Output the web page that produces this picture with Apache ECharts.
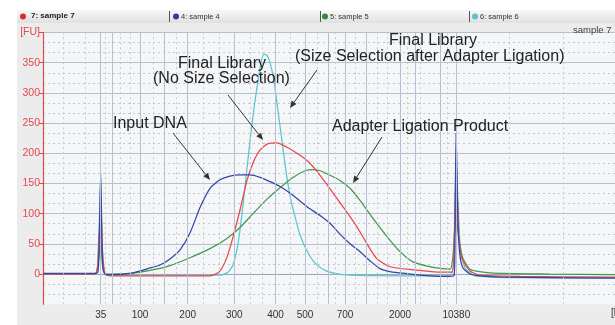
<!DOCTYPE html>
<html><head><meta charset="utf-8">
<script src="https://cdn.jsdelivr.net/npm/echarts@6.0.0/dist/echarts.min.js"></script>
<style>html,body{margin:0;padding:0;background:#fff;}#c{width:615px;height:325px;}</style>
</head><body><div id="c"></div>
<script>
// x axis = migration time (arbitrary units); ladder peaks mapped to bp labels
const ladderTimes = [20.77, 21.93, 24.7, 27.1, 29.47, 34.13, 38.25, 41.2, 43.57, 45.2, 47.37, 50.7, 52.2, 54.77, 56.33];
const ladderBp    = [35, 50, 100, 150, 200, 300, 400, 500, 600, 700, 1000, 2000, 3000, 7000, 10380];
const shownBp     = [35, 100, 200, 300, 400, 500, 700, 2000, 10380];
const yTicks      = [0, 50, 100, 150, 200, 250, 300, 350, 400];

// sample 4 : Input DNA (blue)
const sample4 = [[15,1],[20.2,1],[20.5,3],[20.65,70],[20.77,167],[20.88,60],[21.0,8],[21.2,0],[21.7,-1],[23.7,1],[25.7,10],[26.7,15],[27.7,25],[28.7,40],[29.7,68],[30.7,110],[31.7,142],[32.7,156],[33.7,162],[34.7,164],[35.7,164],[36.7,160],[37.7,153],[38.7,145],[39.7,134],[40.7,121],[41.7,108],[42.7,97],[43.7,84],[44.7,66],[45.7,50],[46.7,37],[47.7,22],[48.7,9],[49.7,4],[50.7,2],[52.7,-2],[55.2,-4],[56.1,-3],[56.2,60],[56.3,233],[56.4,170],[56.5,80],[56.7,30],[57.0,10],[57.7,0],[58.7,-3],[60.7,-5],[65.7,-6],[72.2,-7]];
// sample 7 : Final Library, no size selection (red)
const sample7 = [[15,0],[20.2,0],[20.55,40],[20.77,126],[20.95,35],[21.2,0],[21.7,-3],[31.7,-3],[32.5,2],[32.9,10],[33.4,28],[34.0,61],[34.7,106],[35.4,155],[36.0,184],[36.7,205],[37.5,216],[38.4,217],[39.4,210],[40.4,200],[41.4,188],[42.4,170],[43.4,148],[44.4,125],[45.4,102],[46.4,78],[47.4,50],[48.4,25],[49.7,12],[52.0,7],[54.7,3],[55.9,3],[56.1,40],[56.3,165],[56.45,120],[56.6,60],[56.9,25],[57.7,5],[58.7,-2],[62.7,-4],[72.2,-5]];
// sample 5 : Adapter Ligation Product (green)
const sample5 = [[15,0],[20.2,0],[20.55,20],[20.77,55],[20.95,15],[21.2,0],[21.7,0],[23.7,1],[25.7,6],[27.7,14],[29.7,27],[31.7,42],[33.4,59],[34.7,77],[36.0,100],[37.4,124],[38.7,143],[40.0,160],[41.2,171],[42.0,173],[42.7,171],[43.4,166],[44.7,155],[45.7,142],[46.7,122],[48.0,92],[49.4,62],[50.7,37],[52.0,20],[54.0,11],[55.7,8],[56.0,30],[56.3,100],[56.5,70],[56.9,30],[57.7,8],[59.7,2],[65.7,0],[72.2,-1]];
// sample 6 : Final Library, size selection after adapter ligation (cyan)
const sample6 = [[15,0],[20.2,0],[20.55,50],[20.77,160],[20.95,40],[21.2,0],[21.7,-2],[32.7,-2],[33.5,3],[34.0,15],[34.5,50],[34.9,100],[35.3,160],[35.7,220],[36.1,275],[36.5,320],[36.8,350],[37.1,364],[37.4,362],[37.7,350],[38.1,320],[38.5,270],[38.9,220],[39.3,170],[39.7,130],[40.2,95],[40.7,65],[41.4,38],[42.2,18],[43.2,6],[44.2,1],[45.7,-2],[50.7,-3],[55.7,-3],[56.1,40],[56.3,190],[56.5,120],[56.7,50],[57.2,10],[58.2,-3],[62.7,-6],[72.2,-7]];

// dotted vertical grid positions (time units)
const dottedTimes = [17.0, 19.2, 21.2, 22.7, 23.7, 26.0, 28.3, 31.0, 32.6, 35.7, 36.9, 39.7, 42.4, 44.2, 46.2, 48.4, 49.4, 51.4, 52.7, 55.4, 61.6, 67.0];

const chart = echarts.init(document.getElementById('c'), null, {renderer:'canvas'});
const bpByTime = {};
ladderTimes.forEach((t,i)=>{ bpByTime[t.toFixed(2)] = ladderBp[i]; });
const labelTimes = ladderTimes.filter((t,i)=>shownBp.indexOf(ladderBp[i])>=0);

function lineSeries(name, data, color){
  return {name, type:'line', data, showSymbol:false, symbol:'none', smooth:0.2,
    lineStyle:{color, width:1.25}, itemStyle:{color}, z:3, animation:false};
}
const ff = 'Liberation Sans, Arial, sans-serif';
const txt = (x,y,t,extra)=>({type:'text', left:x, top:y, z:10, style:Object.assign({text:t, fill:'#222', font:'16px '+ff}, extra||{})});
const arrow = (x1,y1,x2,y2)=>{
  const a = Math.atan2(y2-y1,x2-x1), L=7, W=3;
  const bx = x2 - L*Math.cos(a), by = y2 - L*Math.sin(a);
  return [
    {type:'line', z:10, shape:{x1,y1,x2:bx,y2:by}, style:{stroke:'#333', lineWidth:1}},
    {type:'polygon', z:10, shape:{points:[[x2,y2],[bx+W*Math.sin(a),by-W*Math.cos(a)],[bx-W*Math.sin(a),by+W*Math.cos(a)]]}, style:{fill:'#333'}}
  ];
};

const option = {
  backgroundColor:'#ffffff',
  animation:false,
  grid:{left:43, top:32.5, right:0, bottom:20.8, show:true, backgroundColor:'#f5f6f8', borderWidth:0},
  xAxis:[{type:'value', min:15, max:72.2,
    axisLine:{show:true, lineStyle:{color:'#9aa4b4', width:1}},
    axisTick:{show:true, customValues:ladderTimes, length:4, lineStyle:{color:'#8a94a4'}},
    axisLabel:{show:true, customValues:labelTimes, color:'#333', fontSize:10, fontFamily:ff, margin:6,
      formatter:v=>{const k=Number(v).toFixed(2); return bpByTime[k]!==undefined?String(bpByTime[k]):'';}},
    splitLine:{show:false}}],
  yAxis:[{type:'value', min:-50, max:400, interval:50,
    axisLine:{show:true, onZero:false, lineStyle:{color:'#e0484e', width:1.2}},
    axisTick:{show:true, customValues:yTicks, length:4, inside:false, lineStyle:{color:'#e0484e'}},
    axisLabel:{show:true, customValues:yTicks, color:'#e0484e', fontSize:10.5, fontFamily:ff, margin:3,
      formatter:v=>v===400?'[FU]':String(v)},
    splitLine:{show:true, lineStyle:{color:'#b7c0d0', width:1}},
    minorTick:{show:false, splitNumber:3},
    minorSplitLine:{show:true, lineStyle:{color:'#c4c8ce', type:[2,3], width:1}}}],
  series:[
    {type:'line', data:[], z:1, silent:true, animation:false,
      markLine:{silent:true, symbol:'none', animation:false, label:{show:false},
        lineStyle:{color:'#c6cad0', type:[2,3], width:1},
        data: dottedTimes.map(t=>({xAxis:t}))}},
    {type:'line', data:[], z:1, silent:true, animation:false,
      markLine:{silent:true, symbol:'none', animation:false, label:{show:false},
        lineStyle:{color:'#b7c0d0', type:'solid', width:1},
        data: ladderTimes.map(t=>({xAxis:t}))}},
    lineSeries('6: sample 6', sample6, '#5cc6cf'),
    lineSeries('5: sample 5', sample5, '#3e9a4e'),
    lineSeries('7: sample 7', sample7, '#e8474e'),
    lineSeries('4: sample 4', sample4, '#3545a5')
  ],
  graphic:[
    {type:'rect', z:-10, shape:{x:17,y:10,width:598,height:315}, style:{fill:'#ececec'}},
    {type:'rect', z:-9, shape:{x:17,y:10,width:598,height:13},
      style:{fill:new echarts.graphic.LinearGradient(0,0,0,1,[{offset:0,color:'#f8f8f8'},{offset:1,color:'#e0e0e0'}])}},
    {type:'circle', shape:{cx:23,cy:16.5,r:3}, style:{fill:'#e02a2a'}},
    {type:'circle', shape:{cx:176,cy:16.5,r:3}, style:{fill:'#2a3f9a'}},
    {type:'circle', shape:{cx:325,cy:16.5,r:3}, style:{fill:'#2e8b3e'}},
    {type:'circle', shape:{cx:475,cy:16.5,r:3}, style:{fill:'#5cc0c8'}},
    {type:'line', shape:{x1:169.5,y1:11,x2:169.5,y2:22}, style:{stroke:'#555',lineWidth:1}},
    {type:'line', shape:{x1:320.5,y1:11,x2:320.5,y2:22}, style:{stroke:'#555',lineWidth:1}},
    {type:'line', shape:{x1:469.5,y1:11,x2:469.5,y2:22}, style:{stroke:'#555',lineWidth:1}},
    txt(31,12,'7: sample 7',{font:'bold 8px '+ff, fill:'#222'}),
    txt(181,12.5,'4: sample 4',{font:'7.5px '+ff, fill:'#333'}),
    txt(330,12.5,'5: sample 5',{font:'7.5px '+ff, fill:'#333'}),
    txt(480,12.5,'6: sample 6',{font:'7.5px '+ff, fill:'#333'}),
    txt(573,25,'sample 7',{font:'9.5px '+ff, fill:'#444'}),
    txt(611,308,'[bp]',{font:'10px '+ff, fill:'#333'}),
    txt(113,116,'Input DNA'),
    txt(178,56,'Final Library'),
    txt(153,71,'(No Size Selection)'),
    txt(389,33,'Final Library'),
    txt(295,49,'(Size Selection after Adapter Ligation)'),
    txt(332,119,'Adapter Ligation Product'),
    ...arrow(173,133,210,180),
    ...arrow(228,95,263,140),
    ...arrow(317,70,290,108),
    ...arrow(382,137,353,183)
  ]
};
chart.setOption(option);
</script></body></html>
